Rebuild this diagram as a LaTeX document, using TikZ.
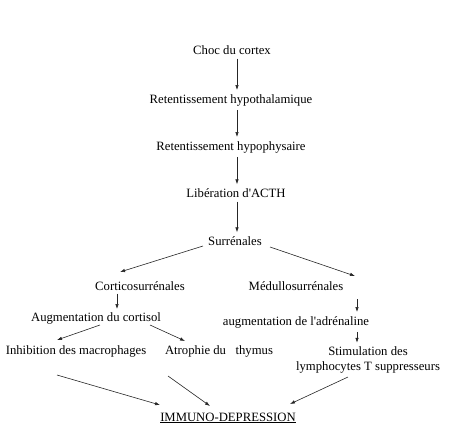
\documentclass[tikz,border=0pt]{standalone}
\usepackage{fontspec}
\setmainfont{Liberation Serif}
\usetikzlibrary{arrows.meta, positioning}

\begin{document}
\begin{tikzpicture}[
    x=1pt, y=-1pt,
    every node/.style={font=\fontsize{12.7}{14.5}\selectfont, inner sep=2pt},
    etape/.style={align=center},
    flow/.style={-{Latex[length=5pt,width=3.5pt]}, semithick, black!85}
]
\useasboundingbox (0,0) rectangle (475,440);

% Chaine centrale
\node[etape] (choc)   at (232,50)  {Choc du cortex};
\node[etape] (hypoth) at (231,100) {Retentissement hypothalamique};
\node[etape] (hypoph) at (231,147) {Retentissement hypophysaire};
\node[etape] (acth)   at (236,193) {Lib\'eration d\textquotesingle ACTH};
\node[etape] (surr)   at (235,241) {Surr\'enales};

% Deux branches
\node[etape] (cort)   at (140,286) {Corticosurr\'enales};
\node[etape] (medul)  at (296,286) {M\'edullosurr\'enales};
\node[etape] (cortis) at (96,318)  {Augmentation du cortisol};
\node[etape] (adren)  at (296,322) {augmentation de l\textquotesingle adr\'enaline};
\node[etape] (macro)  at (76,351)  {Inhibition des macrophages};
\node[etape] (thym)   at (219,351) {Atrophie du\ \ \ thymus};
\node[etape] (lympho) at (368,360) {Stimulation des\\lymphocytes T suppresseurs};

% Resultat
\node[etape] (immuno) at (228,418) {\underline{IMMUNO-DEPRESSION}};

% Axes des fleches verticales
\coordinate (axe)  at (237,0);
\coordinate (axeg) at (117,0);
\coordinate (axed) at (357,0);
\coordinate (depd) at (357,299);

% Fleches verticales
\foreach \a/\b in {choc/hypoth, hypoth/hypoph, hypoph/acth, acth/surr} {
    \draw[flow] ([yshift=-2pt]\a.south -| axe) -- ([yshift=2pt]\b.north -| axe);
}
\draw[flow] ([yshift=-1pt]cort.south -| axeg) -- ([yshift=1pt]cortis.north -| axeg);
\draw[flow] (depd) -- ([yshift=2pt]adren.north -| axed);
\draw[flow] ([yshift=-2pt]adren.south -| axed) -- ([yshift=2pt]lympho.north -| axed);

% Fleches obliques
\draw[flow] (203,246) -- (120,272);
\draw[flow] (270,247) -- (355,276);
\draw[flow] (100,325) -- (57,340);
\draw[flow] (150,325) -- (185,341);
\draw[flow] (57,375) -- (160,405);
\draw[flow] (168,376) -- (210,406);
\draw[flow] (348,377) -- (290,404);

\end{tikzpicture}
\end{document}
